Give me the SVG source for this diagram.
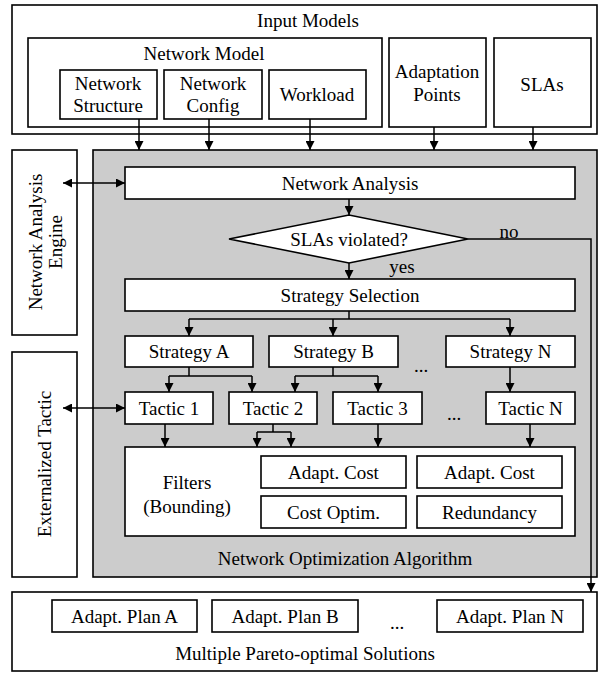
<svg xmlns="http://www.w3.org/2000/svg" width="599" height="673" viewBox="0 0 599 673">
<defs>
<marker id="ah" viewBox="0 0 10 10" refX="10" refY="5" markerWidth="9" markerHeight="9" markerUnits="userSpaceOnUse" orient="auto-start-reverse">
<path d="M0,0 L10,5 L0,10 z" fill="#000"/>
</marker>
</defs>
<g fill="#fff" stroke="#000" stroke-width="1.6">
<g id="input-models"><rect x="12" y="5" width="585" height="129"/></g>
<g id="network-model"><rect x="28" y="38" width="354" height="89"/></g>
<g id="network-structure"><rect x="60" y="70" width="97" height="49"/></g>
<g id="network-config"><rect x="164" y="70" width="98" height="49"/></g>
<g id="workload"><rect x="269" y="70" width="97" height="49"/></g>
<g id="adaptation-points"><rect x="389" y="38" width="97" height="89"/></g>
<g id="slas"><rect x="494" y="38" width="97" height="89"/></g>
<g id="network-analysis-engine"><rect x="12" y="150" width="65" height="185"/></g>
<g id="externalized-tactic"><rect x="12" y="352" width="65" height="225"/></g>
<g id="network-optimization-algorithm"><rect fill="#cccccc" x="93" y="150" width="504" height="427"/></g>
<g id="network-analysis"><rect x="125" y="167" width="450" height="32"/></g>
<g id="slas-violated"><polygon points="229,239 349,215 468,239 349,263"/></g>
<g id="strategy-selection"><rect x="125" y="279" width="450" height="32"/></g>
<g id="strategy-a"><rect x="125" y="336" width="128" height="31"/></g>
<g id="strategy-b"><rect x="269" y="336" width="129" height="31"/></g>
<g id="strategy-n"><rect x="446" y="336" width="129" height="31"/></g>
<g id="tactic-1"><rect x="125" y="392" width="88" height="32"/></g>
<g id="tactic-2"><rect x="229" y="392" width="88" height="32"/></g>
<g id="tactic-3"><rect x="333" y="392" width="89" height="32"/></g>
<g id="tactic-n"><rect x="486" y="392" width="89" height="32"/></g>
<g id="filters"><rect x="125" y="447" width="450" height="89"/></g>
<g id="adapt-cost-1"><rect x="261" y="456" width="145" height="32"/></g>
<g id="adapt-cost-2"><rect x="417" y="456" width="145" height="32"/></g>
<g id="cost-optim"><rect x="261" y="496" width="145" height="32"/></g>
<g id="redundancy"><rect x="417" y="496" width="145" height="32"/></g>
<g id="pareto-solutions"><rect x="12" y="592" width="585" height="79"/></g>
<g id="plan-a"><rect x="52" y="600" width="145" height="32"/></g>
<g id="plan-b"><rect x="212" y="600" width="146" height="32"/></g>
<g id="plan-n"><rect x="437" y="600" width="146" height="32"/></g>
</g>

<g id="texts" font-family="Liberation Serif" font-size="19" text-anchor="middle" fill="#000">
<text x="308" y="27">Input Models</text>
<text x="204" y="60">Network Model</text>
<text x="108" y="90">Network</text>
<text x="108" y="112">Structure</text>
<text x="213" y="90">Network</text>
<text x="213" y="112">Config</text>
<text x="317" y="101">Workload</text>
<text x="437" y="78">Adaptation</text>
<text x="437" y="101">Points</text>
<text x="542" y="91">SLAs</text>
<text transform="translate(44.5,242) rotate(-90)" x="0" y="-3">Network Analysis</text>
<text transform="translate(44.5,242) rotate(-90)" x="0" y="17">Engine</text>
<text transform="translate(44.5,464) rotate(-90)" x="0" y="6.5">Externalized Tactic</text>
<text x="345" y="565">Network Optimization Algorithm</text>
<text x="350" y="189.5">Network Analysis</text>
<text x="349" y="245.5">SLAs violated?</text>
<text x="350" y="301.5">Strategy Selection</text>
<text x="189" y="358">Strategy A</text>
<text x="333.5" y="358">Strategy B</text>
<text x="510.5" y="358">Strategy N</text>
<text x="169" y="414.5">Tactic 1</text>
<text x="273" y="414.5">Tactic 2</text>
<text x="377.5" y="414.5">Tactic 3</text>
<text x="530.5" y="414.5">Tactic N</text>
<text x="187" y="489">Filters</text>
<text x="187" y="513">(Bounding)</text>
<text x="333.5" y="478.5">Adapt. Cost</text>
<text x="489.5" y="478.5">Adapt. Cost</text>
<text x="333.5" y="518.5">Cost Optim.</text>
<text x="489.5" y="518.5">Redundancy</text>
<text x="305" y="660">Multiple Pareto-optimal Solutions</text>
<text x="124.5" y="623">Adapt. Plan A</text>
<text x="285" y="623">Adapt. Plan B</text>
<text x="510" y="623">Adapt. Plan N</text>
<text x="421" y="372">...</text>
<text x="454" y="420">...</text>
<text x="397" y="629">...</text>
<text x="402" y="273">yes</text>
<text x="509" y="238">no</text>
</g>

<g id="connectors" fill="none" stroke="#000" stroke-width="1.5">
<g marker-end="url(#ah)">
<path d="M139,119 V150"/>
<path d="M209,119 V150"/>
<path d="M310,119 V150"/>
<path d="M434,127 V150"/>
<path d="M533,127 V150"/>
<path d="M349,199 V215"/>
<path d="M349,263 V279"/>
<path d="M468,239 H591 V592"/>
<path d="M189,319 V336"/>
<path d="M333,319 V336"/>
<path d="M510,319 V336"/>
<path d="M169,376 V392"/>
<path d="M252,376 V392"/>
<path d="M295,376 V392"/>
<path d="M378,376 V392"/>
<path d="M510,367 V392"/>
<path d="M165,424 V447"/>
<path d="M257,432 V447"/>
<path d="M291,432 V447"/>
<path d="M378,424 V447"/>
<path d="M530,424 V447"/>
</g>
<path marker-start="url(#ah)" marker-end="url(#ah)" d="M63,183 H125"/>
<path marker-start="url(#ah)" marker-end="url(#ah)" d="M63,408 H125"/>
<path d="M349,311 V319 M189,319 H510"/>
<path d="M189,367 V376 M169,376 H252 M333,367 V376 M295,376 H378"/>
<path d="M273,424 V432 M257,432 H291"/>
</g>
</svg>
